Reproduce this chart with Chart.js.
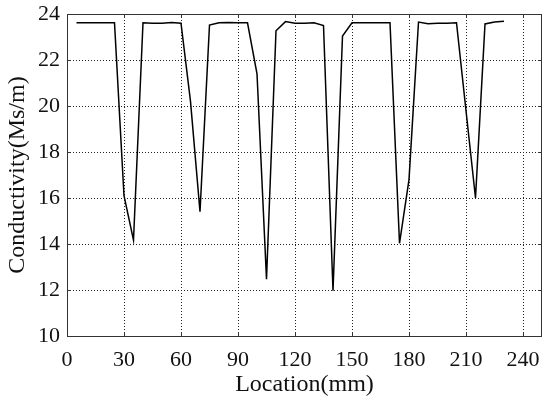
<!DOCTYPE html>
<html>
<head>
<meta charset="utf-8">
<script src="https://cdn.jsdelivr.net/npm/chart.js@4/dist/chart.umd.min.js"></script>
<style>
html,body{margin:0;padding:0;background:#fff;}
#wrap{width:550px;height:402px;}
</style>
</head>
<body>
<div id="wrap"><canvas id="c" width="550" height="402"></canvas></div>
<script>
// Data
const locations = [5,10,15,20,25,30,35,40,45,50,55,60,65,70,75,80,85,90,95,100,105,110,115,120,125,130,135,140,145,150,155,160,165,170,175,180,185,190,195,200,205,210,215,220,225,230];
const conductivity = [23.62,23.62,23.62,23.62,23.62,16.1,14.17,23.62,23.6,23.6,23.63,23.6,20.2,15.4,23.52,23.62,23.63,23.62,23.62,21.4,12.47,23.27,23.67,23.6,23.6,23.62,23.5,11.97,23.04,23.62,23.62,23.62,23.62,23.62,14.03,16.8,23.65,23.58,23.6,23.6,23.62,19.8,16.0,23.57,23.65,23.68];
const xTicks = [0,30,60,90,120,150,180,210,240];
const yTicks = [10,12,14,16,18,20,22,24];
const xTitle = 'Location(mm)';
const yTitle = 'Conductivity(Ms/m)';

Chart.defaults.font.family = "'Liberation Serif', 'Times New Roman', serif";
Chart.defaults.color = '#111';

const frame = {
  id: 'frame',
  afterDraw(chart) {
    const {ctx, chartArea: a, scales} = chart;
    ctx.save();
    ctx.strokeStyle = '#333';
    ctx.lineWidth = 1;
    ctx.setLineDash([]);
    ctx.strokeRect(Math.round(a.left) + 0.5, Math.round(a.top) + 0.5, Math.round(a.right - a.left) - 1, Math.round(a.bottom - a.top));
    const t = 4;
    ctx.beginPath();
    xTicks.forEach(v => {
      const px = Math.round(scales.x.getPixelForValue(v)) + 0.5;
      ctx.moveTo(px, a.top); ctx.lineTo(px, a.top + t);
      ctx.moveTo(px, a.bottom); ctx.lineTo(px, a.bottom - t);
    });
    yTicks.forEach(v => {
      const py = Math.round(scales.y.getPixelForValue(v)) + 0.5;
      ctx.moveTo(a.left, py); ctx.lineTo(a.left + t, py);
      ctx.moveTo(a.right, py); ctx.lineTo(a.right - t, py);
    });
    ctx.stroke();
    ctx.restore();
  }
};

new Chart(document.getElementById('c'), {
  type: 'line',
  data: {
    datasets: [{
      data: locations.map((x, i) => ({x, y: conductivity[i]})),
      borderColor: '#000',
      borderWidth: 1.5,
      pointRadius: 0,
      tension: 0,
      fill: false
    }]
  },
  options: {
    responsive: false,
    animation: false,
    devicePixelRatio: 1,
    layout: {padding: {top: 14, right: 8, left: 0, bottom: 0}},
    plugins: {legend: {display: false}, tooltip: {enabled: false}},
    scales: {
      x: {
        type: 'linear',
        min: 0, max: 250,
        afterBuildTicks: s => { s.ticks = xTicks.map(v => ({value: v})); },
        afterFit: s => { s.height = 66; s.paddingLeft = 0; s.paddingRight = 0; },
        grid: {color: '#222', lineWidth: 1, drawTicks: false},
        border: {display: false, dash: [1, 2]},
        ticks: {font: {size: 22}, padding: 11, maxRotation: 0, autoSkip: false},
        title: {display: true, text: xTitle, font: {size: 24}, padding: {top: 0, bottom: 3}}
      },
      y: {
        type: 'linear',
        min: 10, max: 24,
        afterBuildTicks: s => { s.ticks = yTicks.map(v => ({value: v})); },
        afterFit: s => { s.width = 67; s.paddingTop = 0; s.paddingBottom = 0; },
        grid: {color: '#222', lineWidth: 1, drawTicks: false},
        border: {display: false, dash: [1, 2]},
        ticks: {font: {size: 22}, padding: 7},
        title: {display: true, text: yTitle, font: {size: 24}, padding: {top: 3, bottom: 0}}
      }
    }
  },
  plugins: [frame]
});
</script>
</body>
</html>
